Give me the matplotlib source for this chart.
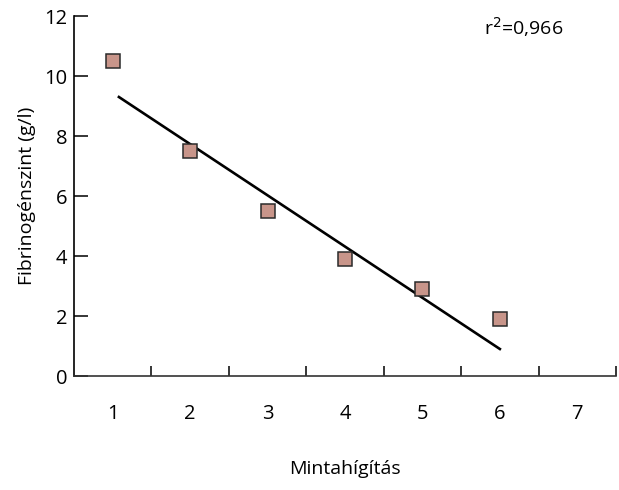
import matplotlib.pyplot as plt

plt.rcParams['font.family'] = ['Open Sans', 'DejaVu Sans']

dilution = [1, 2, 3, 4, 5, 6]
fibrinogen = [10.5, 7.5, 5.5, 3.9, 2.9, 1.9]
fit_x = [1.08, 6.0]
fit_y = [9.3, 0.9]
r2_text = "r$^2$=0,966"

fig = plt.figure(figsize=(6.19, 4.9), dpi=100)
ax = fig.add_axes([74/619, 114/490, 542/619, 360/490])

ax.plot(fit_x, fit_y, color='black', lw=1.9, zorder=2)
ax.plot(dilution, fibrinogen, ls='none', marker='s', ms=10,
        mfc='#c8958a', mec='#2a2a2a', mew=1.1, zorder=3)

ax.set_xlim(0.5, 7.5)
ax.set_ylim(0, 12)
ax.set_xticks(range(1, 8))
ax.set_xticks([1.5, 2.5, 3.5, 4.5, 5.5, 6.5, 7.5], minor=True)
ax.tick_params(axis='x', which='major', length=0, pad=20, labelsize=14.5)
ax.tick_params(axis='x', which='minor', direction='in', length=7, width=1.1)
ax.set_yticks(range(0, 13, 2))
ax.tick_params(axis='y', direction='in', length=10, width=1.1, pad=5, labelsize=14.5)

for s in ['top', 'right']:
    ax.spines[s].set_visible(False)
for s in ['left', 'bottom']:
    ax.spines[s].set_linewidth(1.2)
ax.spines['bottom'].set_color('#333333')

ax.set_xlabel("Mintahígítás", fontsize=14, labelpad=26)
ax.set_ylabel("Fibrinogénszint (g/l)", fontsize=14, labelpad=6)
ax.text(0.83, 0.97, r2_text, transform=ax.transAxes, fontsize=14,
        ha='center', va='center')

fig.savefig("out.png", dpi=100)
